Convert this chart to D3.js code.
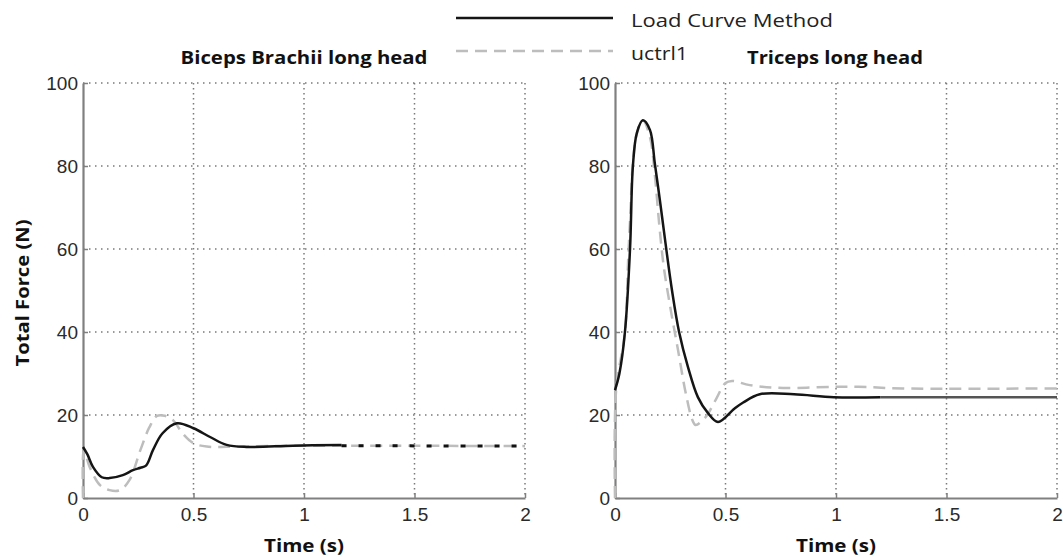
<!DOCTYPE html>
<html>
<head>
<meta charset="utf-8">
<script src="https://cdn.jsdelivr.net/npm/d3@7"></script>
<style>
  html, body { margin: 0; padding: 0; background: #fff; }
  svg { display: block; }
  text { font-family: "Open Sans", "Liberation Sans", sans-serif; }
</style>
</head>
<body>
<svg id="chart" width="1063" height="558"></svg>
<script>
// ---- data ----
const xTicks = [0, 0.5, 1, 1.5, 2];
const xTickLabels = ["0", "0.5", "1", "1.5", "2"];
const yTicks = [0, 20, 40, 60, 80, 100];
const yTickLabels = ["0", "20", "40", "60", "80", "100"];

const seriesNames = ["Load Curve Method", "uctrl1"];
const panelTitles = ["Biceps Brachii long head", "Triceps long head"];
const xAxisTitle = "Time (s)";
const yAxisTitle = "Total Force (N)";

// Biceps Brachii long head
const bicepsLoadT = [0, 0.02, 0.045, 0.085, 0.12, 0.18, 0.226, 0.26, 0.285, 0.317, 0.36, 0.425, 0.5, 0.575, 0.65, 0.74, 0.95, 1.17];
const bicepsLoadV = [12.3, 10.5, 7.5, 5.0, 4.8, 5.5, 6.7, 7.3, 7.8, 11.6, 15.6, 18.0, 16.8, 14.7, 12.8, 12.3, 12.6, 12.8];
const bicepsLoadTailT = [1.17, 2];
const bicepsLoadTailV = [12.6, 12.5];
const bicepsUctrlT = [0, 0.004, 0.03, 0.077, 0.12, 0.167, 0.21, 0.26, 0.3, 0.335, 0.37, 0.41, 0.45, 0.5, 0.56, 0.7, 1.0, 2];
const bicepsUctrlV = [0, 11.5, 7.5, 3.1, 1.9, 1.9, 4.3, 11.6, 17.0, 19.8, 19.8, 18.6, 15.6, 13.2, 12.4, 12.4, 12.6, 12.5];

// Triceps long head
const tricepsLoadT = [0, 0.02, 0.045, 0.068, 0.081, 0.099, 0.126, 0.158, 0.18, 0.205, 0.227, 0.258, 0.29, 0.33, 0.375, 0.42, 0.466, 0.54, 0.58, 0.655, 0.81, 0.99, 1.2];
const tricepsLoadV = [26, 30, 40, 60, 80, 88, 91, 88.7, 80.7, 71, 62, 50, 40, 31.6, 24.3, 20.5, 18.3, 21.5, 23, 25, 25, 24.3, 24.3];
const tricepsLoadTailT = [1.2, 2];
const tricepsLoadTailV = [24.3, 24.3];
const tricepsUctrlT = [0, 0.005, 0.045, 0.06, 0.07, 0.08, 0.1, 0.126, 0.158, 0.18, 0.2, 0.22, 0.25, 0.285, 0.32, 0.35, 0.365, 0.41, 0.455, 0.5, 0.53, 0.61, 0.76, 0.99, 1.1, 1.3, 2];
const tricepsUctrlV = [0, 26, 40, 58, 69, 80, 88, 91, 87, 78, 66, 56, 46, 35.7, 25.3, 18.8, 17.6, 19.5, 23.6, 27.7, 28.2, 27.2, 26.5, 26.8, 26.8, 26.4, 26.4];

// ---- layout ----
const svg = d3.select("#chart");
const panels = [
  { x0: 83, x1: 525, title: panelTitles[0], titleX: 304, titleLen: 247,
    load: [bicepsLoadT, bicepsLoadV], tail: [bicepsLoadTailT, bicepsLoadTailV], uctrl: [bicepsUctrlT, bicepsUctrlV],
    tailStyle: { stroke: "#111", dash: "5,12", width: 3 } },
  { x0: 615, x1: 1057, title: panelTitles[1], titleX: 835, titleLen: 176,
    load: [tricepsLoadT, tricepsLoadV], tail: [tricepsLoadTailT, tricepsLoadTailV], uctrl: [tricepsUctrlT, tricepsUctrlV],
    tailStyle: { stroke: "#555", dash: null, width: 2.5 } }
];
const yTop = 83, yBot = 498;

const zip = (t, v) => t.map((d, i) => [d, v[i]]);

panels.forEach((p, pi) => {
  const x = d3.scaleLinear().domain([0, 2]).range([p.x0, p.x1]);
  const y = d3.scaleLinear().domain([0, 100]).range([yBot, yTop]);
  const g = svg.append("g");

  // grid (dotted)
  g.selectAll(".hgrid").data(yTicks.filter(d => d > 0)).join("line")
    .attr("x1", p.x0).attr("x2", p.x1)
    .attr("y1", d => y(d)).attr("y2", d => y(d))
    .attr("stroke", "#7a7a7a").attr("stroke-width", 1.5).attr("stroke-dasharray", "1.5,4.5");
  g.selectAll(".vgrid").data(xTicks.filter(d => d > 0)).join("line")
    .attr("y1", yTop).attr("y2", yBot)
    .attr("x1", d => x(d)).attr("x2", d => x(d))
    .attr("stroke", "#7a7a7a").attr("stroke-width", 1.5).attr("stroke-dasharray", "1.5,3.5");

  // axes via d3
  const xAxis = d3.axisBottom(x).tickValues(xTicks).tickFormat((d, i) => xTickLabels[i]).tickSizeInner(-5).tickSizeOuter(0).tickPadding(12);
  const yAxis = d3.axisLeft(y).tickValues(yTicks).tickFormat((d, i) => yTickLabels[i]).tickSizeInner(-5).tickSizeOuter(0).tickPadding(6);
  const gx = g.append("g").attr("transform", `translate(0,${yBot})`).call(xAxis);
  const gy = g.append("g").attr("transform", `translate(${p.x0},0)`).call(yAxis);
  [gx, gy].forEach(a => {
    a.select(".domain").attr("stroke", "#808080").attr("stroke-width", 2.2);
    a.selectAll(".tick line").attr("stroke", "#808080").attr("stroke-width", 1.5);
    a.selectAll(".tick text").attr("fill", "#2a2a2a").style("font-size", "19px")
      .style("font-family", "'Liberation Sans', sans-serif");
  });
  gx.selectAll(".tick text").attr("dy", "0.71em").attr("y", 10);
  gy.selectAll(".tick text").attr("x", -5);

  // lines
  const line = d3.line().x(d => x(d[0])).y(d => y(d[1])).curve(d3.curveCatmullRom.alpha(0.5));
  g.append("path").datum(zip(p.uctrl[0], p.uctrl[1]))
    .attr("d", line).attr("fill", "none").attr("stroke", "#bdbdbd")
    .attr("stroke-width", 2.5).attr("stroke-dasharray", "12,7");
  g.append("path").datum(zip(p.tail[0], p.tail[1]))
    .attr("d", line).attr("fill", "none").attr("stroke", p.tailStyle.stroke)
    .attr("stroke-width", p.tailStyle.width).attr("stroke-dasharray", p.tailStyle.dash);
  g.append("path").datum(zip(p.load[0], p.load[1]))
    .attr("d", line).attr("fill", "none").attr("stroke", "#151515")
    .attr("stroke-width", 2.5);

  // titles
  g.append("text").attr("x", p.titleX).attr("y", 64).attr("text-anchor", "middle")
    .attr("font-weight", "bold").style("font-size", "18px").attr("fill", "#111")
    .attr("textLength", p.titleLen).attr("lengthAdjust", "spacingAndGlyphs")
    .text(p.title);
  g.append("text").attr("x", (p.x0 + p.x1) / 2).attr("y", 552).attr("text-anchor", "middle")
    .attr("font-weight", "bold").style("font-size", "18px").attr("fill", "#111")
    .attr("textLength", 80).attr("lengthAdjust", "spacingAndGlyphs")
    .text(xAxisTitle);
});

// y axis title
svg.append("text").attr("transform", "translate(29,293) rotate(-90)")
  .attr("text-anchor", "middle").attr("font-weight", "bold").style("font-size", "18px").attr("fill", "#111")
  .attr("textLength", 147).attr("lengthAdjust", "spacingAndGlyphs")
  .text(yAxisTitle);

// legend
const legendY = [18, 51];
const legendLen = [202, 57];
const legendStyle = [{ stroke: "#151515", dash: null }, { stroke: "#bdbdbd", dash: "12,7" }];
const lg = svg.append("g");
lg.selectAll("line").data(seriesNames).join("line")
  .attr("x1", 456).attr("x2", 613)
  .attr("y1", (d, i) => legendY[i]).attr("y2", (d, i) => legendY[i])
  .attr("stroke", (d, i) => legendStyle[i].stroke)
  .attr("stroke-width", 2.5)
  .attr("stroke-dasharray", (d, i) => legendStyle[i].dash);
lg.selectAll("text").data(seriesNames).join("text")
  .attr("x", 631).attr("y", (d, i) => legendY[i] + 9)
  .style("font-size", "19px").attr("fill", "#222")
  .attr("textLength", (d, i) => legendLen[i]).attr("lengthAdjust", "spacingAndGlyphs")
  .text(d => d);
</script>
</body>
</html>
